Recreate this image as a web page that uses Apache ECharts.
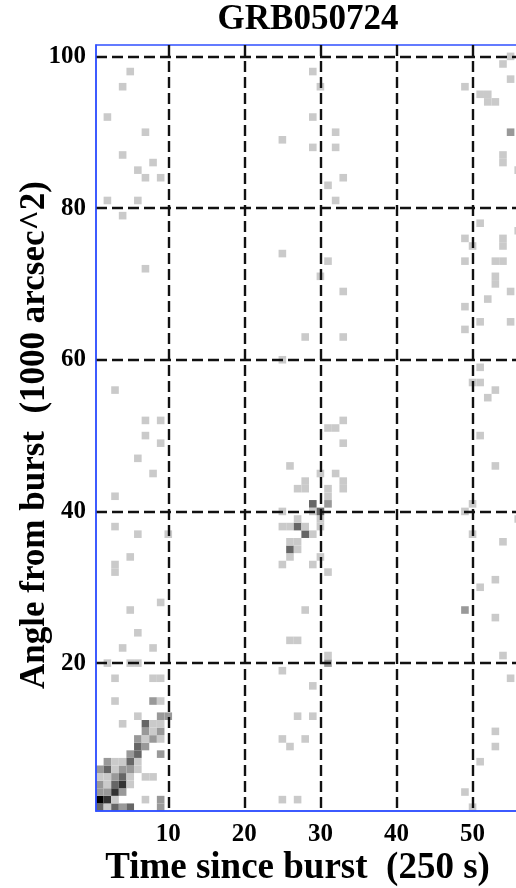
<!DOCTYPE html>
<html>
<head>
<meta charset="utf-8">
<title>GRB050724</title>
<script src="https://cdn.jsdelivr.net/npm/echarts@6/dist/echarts.min.js"></script>
<style>
html, body { margin: 0; padding: 0; background: #fff; }
#chart { width: 516px; height: 888px; }
</style>
</head>
<body>
<div id="chart"></div>
<script>
// cells: [time bin, angle bin, grey level 1..5]
var burstCells = [
    [1,1,3],[2,1,1],[3,1,3],[4,1,2],[5,1,3],[9,1,2],
    [1,2,5],[2,2,4],[3,2,1],[7,2,1],[9,2,2],
    [1,3,2],[2,3,2],[3,3,4],[4,3,2],
    [1,4,2],[2,4,1],[3,4,3],[4,4,4],[5,4,1],
    [1,5,1],[2,5,1],[3,5,2],[4,5,3],[5,5,1],[7,5,1],[8,5,1],
    [1,6,2],[2,6,3],[3,6,1],[4,6,2],[5,6,2],[6,6,1],
    [2,7,2],[3,7,1],[4,7,1],[5,7,3],[6,7,1],
    [5,8,2],[6,8,3],[9,8,2],
    [6,9,3],[7,9,2],
    [6,10,2],[7,10,1],[8,10,2],[9,10,1],
    [7,11,2],[8,11,1],[9,11,2],
    [4,12,1],[7,12,3],[8,12,1],[9,12,1],
    [6,13,1],[9,13,2],[10,13,2],
    [3,15,1],[8,15,2],[9,15,1]
];
var earlyCells = [
    [3,18,1],[8,18,1],[9,18,1],[2,20,1],[5,20,1],[6,20,1],[4,22,1],[8,22,1],
    [6,24,1],[5,27,1],[9,28,1],[3,32,1],[3,33,1],[5,34,1],[6,37,1],[10,37,1],
    [3,38,1],[3,42,1],[8,45,1],[6,47,1],[9,49,1],[7,50,1],[7,52,1],[9,52,1],
    [3,56,1],[7,72,1],[4,79,1],[2,81,1],[6,81,1],[7,84,1],[9,84,1],[6,85,1],
    [8,86,1],[4,87,1],[7,90,1],[2,92,1],[4,96,1],[5,98,1]
];
var midCells = [
    [25,2,1],[27,2,1],[26,9,1],[25,10,1],[28,10,1],[27,13,1],[29,13,1],[29,17,1],
    [25,19,1],[31,20,2],[31,21,1],[26,23,1],[27,23,1],[28,27,1],[31,32,1],
    [25,33,1],[29,33,1],[26,34,1],[30,34,1],[26,35,3],[27,35,1],[26,36,1],[27,36,1],
    [28,37,3],[29,37,1],[25,38,1],[26,38,1],[27,38,3],[28,38,1],[30,38,1],
    [27,39,1],[30,39,1],[25,40,1],[29,40,1],[30,40,3],[29,41,3],[31,41,2],[31,42,1],
    [27,43,1],[28,43,1],[31,43,1],[33,43,1],[28,44,1],[33,44,1],[30,45,1],[32,45,1],
    [26,46,1],[33,49,1],[31,51,1],[32,51,1],[33,52,1],
    [25,60,1],[28,63,1],[33,63,1],[33,69,1],[30,71,1],[31,73,1],[25,74,1],
    [32,81,1],[31,83,1],[33,84,1],[29,88,1],[32,88,1],[25,89,1],[32,90,1],
    [29,92,1],[30,96,1],[29,98,1]
];
var lateCells = [
    [50,1,1],[49,3,1],[51,7,1],[53,9,1],[53,11,1],[55,18,1],[54,21,1],[53,26,1],
    [49,27,2],[51,30,1],[53,31,1],[54,36,1],[50,37,1],[56,39,1],[49,40,1],[50,41,1],
    [53,46,1],[51,50,1],[52,55,1],[53,56,1],[50,57,1],[51,57,1],[51,59,1],[49,64,1],
    [51,65,1],[55,65,1],[49,67,1],[52,68,1],[55,69,1],[53,70,1],[53,71,1],
    [49,73,1],[53,73,1],[54,73,1],[50,75,1],[54,75,1],[49,76,1],[54,76,1],[56,77,1],
    [51,78,1],[56,85,1],[54,86,1],[54,87,1],[55,90,2],[52,94,1],[53,94,1],
    [51,95,1],[52,95,1],[49,96,1],[55,97,1],[54,99,1],[55,100,1]
];
var greys = ['#ffffff', '#cacaca', '#999999', '#666666', '#333333', '#000000'];
var xTicks = [10, 20, 30, 40, 50];
var yTicks = [20, 40, 60, 80, 100];

var allCells = burstCells.concat(earlyCells, midCells, lateCells);

var chart = echarts.init(document.getElementById('chart'));
var serif = 'Liberation Serif';
var gridLine = { show: true, lineStyle: { color: '#111', width: 2.4, type: [11, 5] } };

function cellRect(params, api) {
    var a = api.coord([api.value(0) - 0.5, api.value(1) + 0.5]);
    var b = api.coord([api.value(0) + 0.5, api.value(1) - 0.5]);
    return {
        type: 'rect',
        shape: { x: a[0], y: a[1], width: b[0] - a[0], height: b[1] - a[1] },
        style: { fill: greys[api.value(2)] }
    };
}

var option = {
    backgroundColor: '#fff',
    animation: false,
    title: {
        text: 'GRB050724',
        left: 308,
        top: 2,
        padding: 0,
        textAlign: 'center',
        textStyle: { fontFamily: serif, fontWeight: 'bold', fontSize: 35, color: '#000' }
    },
    grid: {
        left: 96, top: 45, right: -6, bottom: 77,
        outerBoundsMode: 'none',
        show: true, borderColor: '#3050ff', borderWidth: 1.5, backgroundColor: 'transparent'
    },
    xAxis: {
        type: 'value', min: 0.5, max: 56.5,
        name: 'Time since burst  (250 s)',
        nameLocation: 'middle', nameGap: 39, nameMoveOverlap: false,
        nameTextStyle: { fontFamily: serif, fontWeight: 'bold', fontSize: 37, color: '#000', padding: [0, 23, 0, 0] },
        axisLine: { show: true, lineStyle: { color: '#3050ff', width: 1.5 } },
        axisTick: { show: false, customValues: xTicks },
        axisLabel: { customValues: xTicks, margin: 11, fontFamily: serif, fontWeight: 'bold', fontSize: 25, color: '#000' },
        splitLine: gridLine
    },
    yAxis: {
        type: 'value', min: 0.5, max: 101.5,
        name: 'Angle from burst  (1000 arcsec^2)',
        nameLocation: 'middle', nameGap: 44, nameMoveOverlap: false,
        nameTextStyle: { fontFamily: serif, fontWeight: 'bold', fontSize: 35, color: '#000', padding: [0, 14, 0, 0] },
        axisLine: { show: true, lineStyle: { color: '#3050ff', width: 1.5 } },
        axisTick: { show: false, customValues: yTicks },
        axisLabel: { customValues: yTicks, margin: 10, fontFamily: serif, fontWeight: 'bold', fontSize: 25, color: '#000' },
        splitLine: gridLine
    },
    series: [
        {
            type: 'custom',
            z: -1,
            clip: true,
            renderItem: cellRect,
            encode: { x: 0, y: 1 },
            data: allCells
        }
    ]
};
chart.setOption(option);
</script>
</body>
</html>
